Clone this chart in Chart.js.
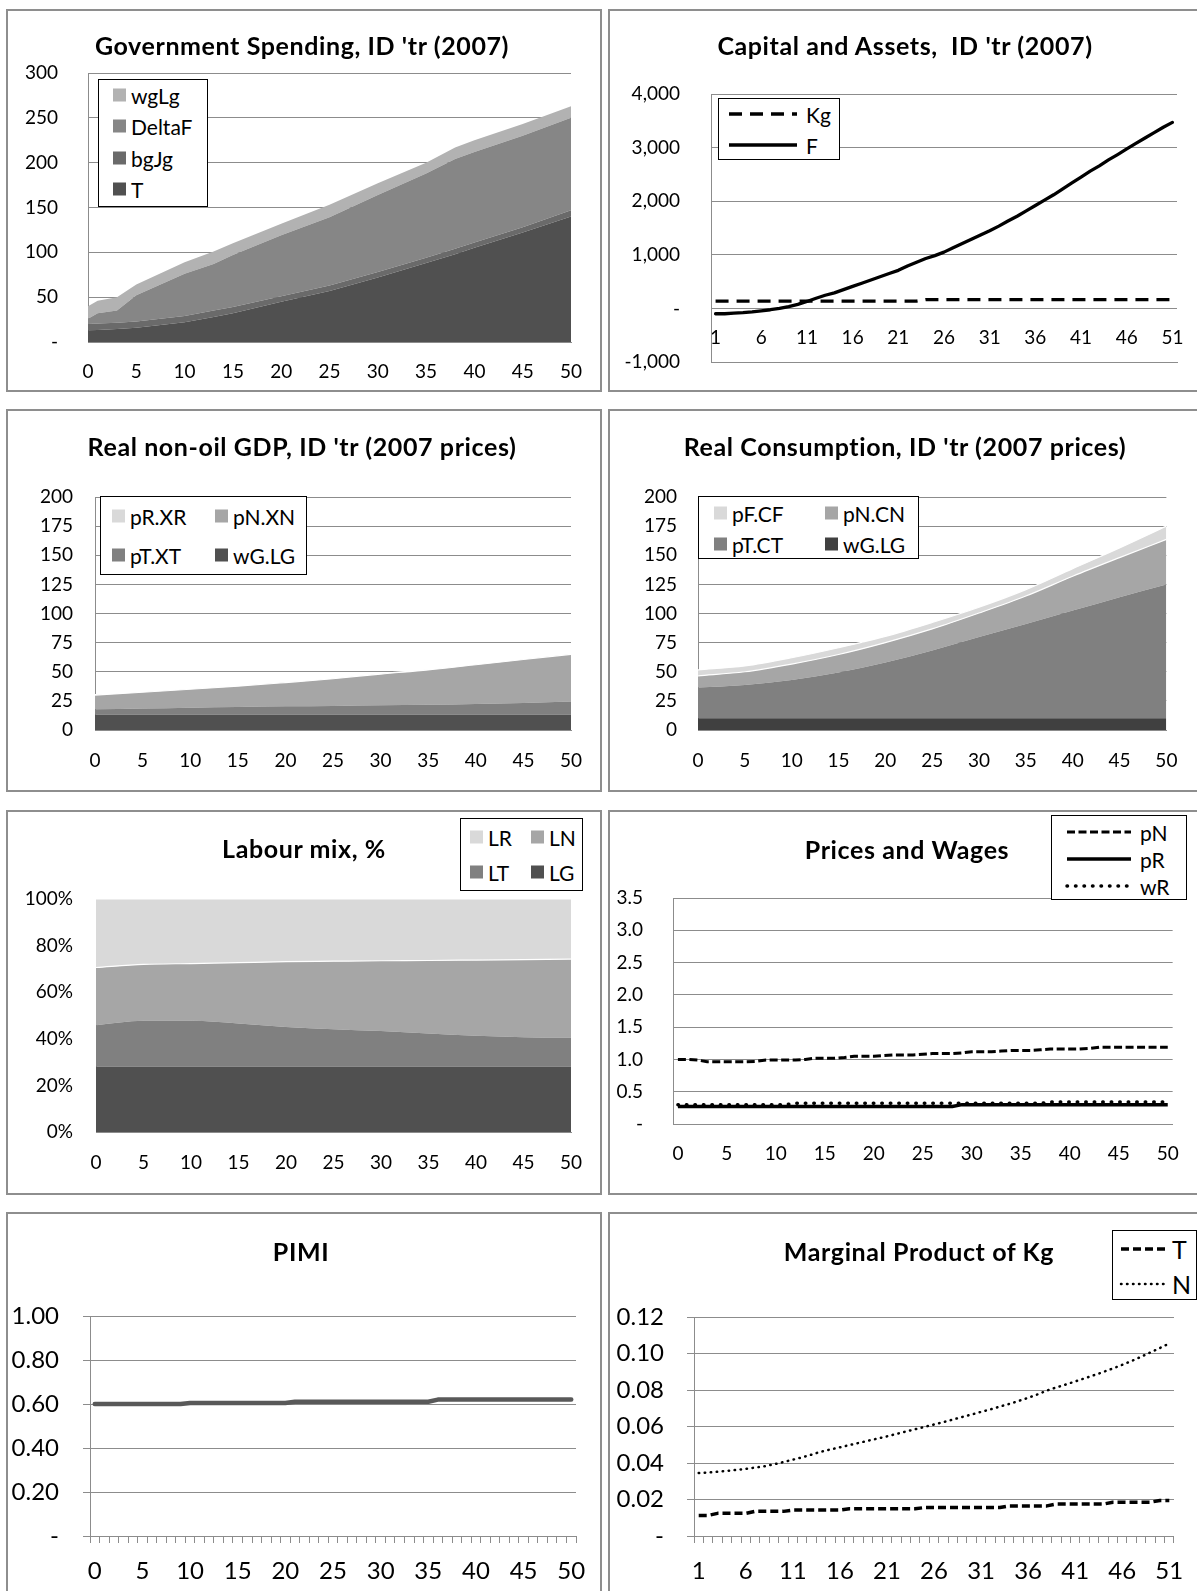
<!DOCTYPE html>
<html><head><meta charset="utf-8">
<script src="https://cdn.jsdelivr.net/npm/chart.js@4.4.1/dist/chart.umd.min.js"></script>
<style>
html,body{margin:0;padding:0;background:#fff;}
body{position:relative;width:1197px;height:1591px;overflow:hidden;font-family:'Lato',sans-serif;color:#000;}
.panel{position:absolute;border:2px solid #8e8e8e;box-sizing:border-box;}
canvas{position:absolute;}
.ttl{position:absolute;font-weight:700;font-size:25px;letter-spacing:0.6px;white-space:pre;transform:translate(-50%,-50%);line-height:1;}
.lg{position:absolute;border:1.5px solid #000;box-sizing:border-box;background:#fff;}
.lt{position:absolute;font-size:21px;line-height:1;white-space:nowrap;transform:translateY(-50%);}
.sw{position:absolute;width:13px;height:13px;transform:translateY(-50%);}
svg{position:absolute;overflow:visible;}
</style></head><body>
<script>
// ---------------- DATA ----------------
// Panel 1: Government Spending (stacked area)
const govYears  = [0,1,3,5,10,13,15,20,25,30,35,38,40,45,50];
const govT      = [13,13.5,14.5,16,22,28,32,45,57,72,88,98,105,122,140];
const govBgJg   = [7,7,7,7,7,7,7,6,6,6,6,6,6,6,7];
const govDeltaF = [6,11.5,13.5,29,47,52,58,68,76,86,94,100,101,102,103];
const govWgLg   = [14,14,15,12,13,14,13,13,14,13,12,13,13,13,13];
const govNames  = ['T','bgJg','DeltaF','wgLg'];

// Panel 2: Capital and Assets (lines), categories 1..51
const capPeriods = [1,2,3,4,5,6,7,8,9,10,11,12,13,14,15,16,17,18,19,20,21,22,23,24,25,26,27,28,29,30,31,32,33,34,35,36,37,38,39,40,41,42,43,44,45,46,47,48,49,50,51];
const capKg = [135,135,135,135,135,135,135,135,135,135,
               135,135,135,135,135,135,135,135,135,135,
               135,135,135,165,165,165,165,165,165,165,
               165,165,165,165,165,165,165,165,165,165,
               165,165,165,165,165,165,165,165,165,165,165];
const capF  = [-100,-100,-90,-80,-65,-45,-25,0,35,75,
               130,190,245,290,350,410,470,530,590,650,
               710,790,860,930,985,1050,1130,1210,1290,1370,
               1450,1535,1630,1720,1820,1920,2020,2120,2230,2340,
               2450,2560,2660,2770,2870,2975,3080,3180,3280,3380,3470];

// Panel 3: Real non-oil GDP (stacked area)
const gdpYears = [0,5,10,15,20,25,30,35,40,45,50];
const gdpWG = [13,13,13,13,13,13,13,13,13,13,13];
const gdpPT = [4.8,5.5,6.2,6.8,7.3,7.7,8.2,8.7,9.3,10.2,11.4];
const gdpPN = [12.2,13.9,15.8,17.8,20.4,23.3,26.8,29.9,33.7,37.3,40.6];
const gdpPR = [0.3,0.3,0.3,0.3,0.3,0.3,0.3,0.3,0.3,0.3,0.3];

// Panel 4: Real Consumption (stacked area)
const conYears = [0,5,10,15,20,25,30,35,40,45,50];
const conWG = [10,10,10,10,10,10,10,10,10,10,10];
const conPT = [26.4,28.7,33,39.4,48,58.3,69.8,81,92.5,104,115];
const conPN = [10.1,11.3,13.6,15.4,17.0,18.5,20.6,24.0,29.5,34.0,38.6];
const conPF = [5.1,5.0,5.4,5.8,5.3,5.5,5.0,5.5,6.5,8.3,11.4];

// Panel 5: Labour mix (100% stacked area, shares in %)
const labYears = [0,5,10,15,20,25,30,35,40,45,50];
const labLG = [28,28,28,28,28,28,28,28,28,28,28];
const labLT = [17.8,19.7,19.7,18.6,17.1,16.1,15.3,14.3,13.3,12.7,12.4];
const labLN = [24.8,24.2,24.6,26.1,28.0,29.2,30.2,31.3,32.5,33.3,33.8];
const labLR = [29.4,28.1,27.7,27.3,26.9,26.7,26.5,26.4,26.2,26.0,25.8];

// Panel 6: Prices and Wages, categories 0..50
const prPeriods = [0,1,2,3,4,5,6,7,8,9,10,11,12,13,14,15,16,17,18,19,20,21,22,23,24,25,26,27,28,29,30,31,32,33,34,35,36,37,38,39,40,41,42,43,44,45,46,47,48,49,50];
const prN = [1.00,1.00,0.99,0.965,0.965,0.965,0.965,0.965,0.97,0.99,
             0.99,0.99,0.99,1.00,1.02,1.02,1.02,1.03,1.05,1.05,
             1.05,1.06,1.07,1.07,1.07,1.08,1.09,1.09,1.09,1.10,
             1.12,1.12,1.12,1.13,1.14,1.14,1.14,1.15,1.16,1.16,
             1.16,1.16,1.17,1.19,1.19,1.19,1.19,1.19,1.19,1.19,1.19];
const prR = [0.27,0.27,0.27,0.27,0.27,0.27,0.27,0.27,0.27,0.27,
             0.27,0.27,0.27,0.27,0.27,0.27,0.27,0.27,0.27,0.27,
             0.27,0.27,0.27,0.27,0.27,0.27,0.27,0.27,0.27,0.30,
             0.30,0.30,0.30,0.30,0.30,0.30,0.30,0.30,0.30,0.30,
             0.30,0.30,0.30,0.30,0.30,0.30,0.30,0.30,0.30,0.30,0.30];
const prW = [0.30,0.30,0.30,0.30,0.30,0.30,0.30,0.30,0.30,0.30,
             0.30,0.30,0.32,0.32,0.32,0.32,0.32,0.32,0.32,0.32,
             0.32,0.32,0.32,0.32,0.32,0.32,0.32,0.32,0.32,0.32,
             0.32,0.32,0.32,0.32,0.32,0.32,0.32,0.32,0.34,0.34,
             0.34,0.34,0.34,0.34,0.34,0.34,0.34,0.34,0.34,0.34,0.34];

// Panel 7: PIMI, categories 0..50
const pimiPeriods = prPeriods;
const pimi = [0.60,0.60,0.60,0.60,0.60,0.60,0.60,0.60,0.60,0.60,
              0.605,0.605,0.605,0.605,0.605,0.605,0.605,0.605,0.605,0.605,
              0.605,0.61,0.61,0.61,0.61,0.61,0.61,0.61,0.61,0.61,
              0.61,0.61,0.61,0.61,0.61,0.61,0.62,0.62,0.62,0.62,
              0.62,0.62,0.62,0.62,0.62,0.62,0.62,0.62,0.62,0.62,0.62];

// Panel 8: Marginal Product of Kg, categories 1..51
const mpPeriods = capPeriods;
const mpT = [0.0113,0.0113,0.0124,0.0124,0.0124,0.0124,0.0135,0.0135,0.0135,0.0135,
             0.0142,0.0142,0.0142,0.0142,0.0142,0.0142,0.0149,0.0149,0.0149,0.0149,
             0.0149,0.0149,0.0149,0.0149,0.0156,0.0156,0.0156,0.0156,0.0156,0.0156,
             0.0156,0.0156,0.0156,0.0165,0.0165,0.0165,0.0165,0.0165,0.0175,0.0175,
             0.0175,0.0175,0.0175,0.0175,0.0185,0.0185,0.0185,0.0185,0.0185,0.0195,0.0195];
const mpN = [0.0345,0.0348,0.0352,0.0357,0.0362,0.0368,0.0375,0.0382,0.0393,0.0405,
             0.0418,0.0431,0.0446,0.0462,0.0474,0.0486,0.0498,0.0510,0.0522,0.0534,
             0.0546,0.0559,0.0572,0.0585,0.0598,0.0611,0.0624,0.0638,0.0652,0.0666,
             0.0680,0.0694,0.0709,0.0724,0.0740,0.0757,0.0776,0.0797,0.0814,0.0830,
             0.0847,0.0864,0.0881,0.0899,0.0918,0.0938,0.0959,0.0982,0.1006,0.1030,0.1055];

// ---------------- HELPERS ----------------
const GRID = '#8c8c8c';
const FONT = 'Lato';
const TS = 19;   // tick font size, upper rows
const TSB = 24;  // tick font size, bottom row
function addDiv(cls, css, text) {
  const d = document.createElement('div'); d.className = cls;
  for (const k in css) d.style[k] = (typeof css[k] === 'number') ? css[k] + 'px' : css[k];
  if (text !== undefined) d.textContent = text;
  document.body.appendChild(d); return d;
}
function panelBox(x,y,w,h){ addDiv('panel',{left:x,top:y,width:w,height:h}); }
function title(text,cx,cy){ addDiv('ttl',{left:cx,top:cy},text); }
function legendFrame(x1,y1,x2,y2){ addDiv('lg',{left:x1,top:y1,width:x2-x1,height:y2-y1}); }
function swatchItem(color,sx,tx,y,text,fs){ addDiv('sw',{left:sx,top:y,background:color}); const t=addDiv('lt',{left:tx,top:y},text); if(fs) t.style.fontSize=fs+'px'; }
function lineItem(x1,x2,y,width,dash,cap,tx,text,fs){
  const NS='http://www.w3.org/2000/svg';
  const svg=document.createElementNS(NS,'svg');
  svg.setAttribute('width',x2-x1+10); svg.setAttribute('height',10);
  svg.style.left=(x1-5)+'px'; svg.style.top=(y-5)+'px';
  const ln=document.createElementNS(NS,'line');
  ln.setAttribute('x1',5); ln.setAttribute('y1',5); ln.setAttribute('x2',x2-x1+5); ln.setAttribute('y2',5);
  ln.setAttribute('stroke','#000'); ln.setAttribute('stroke-width',width);
  if (dash) ln.setAttribute('stroke-dasharray',dash.join(' '));
  ln.setAttribute('stroke-linecap',cap||'butt');
  svg.appendChild(ln); document.body.appendChild(svg);
  const t=addDiv('lt',{left:tx,top:y},text); if(fs) t.style.fontSize=fs+'px';
}
function build(box, plot, cfg, noClipX) {
  const [x,y,w,h] = box, [l,t,r,b] = plot;
  const c = document.createElement('canvas');
  c.width=w; c.height=h; c.style.left=x+'px'; c.style.top=y+'px'; c.style.width=w+'px'; c.style.height=h+'px';
  document.body.appendChild(c);
  const o = cfg.options;
  o.responsive=false; o.maintainAspectRatio=false; o.animation=false; o.devicePixelRatio=1; o.events=[];
  o.layout={padding:{left:0,top:t-y,right:x+w-r,bottom:0}};
  o.scales.y.afterFit = s => { s.width = l - x; };
  o.scales.x.afterFit = s => { s.height = y + h - b; if (noClipX) s._computeLabelArea = () => undefined; };
  o.plugins={legend:{display:false},title:{display:false},tooltip:{enabled:false}};
  return new Chart(c, cfg);
}
function yScale(min,max,step,fmt,size,pad,tick,stacked){
  return {type:'linear',min,max,stacked:!!stacked,
    ticks:{stepSize:step,callback:v=>fmt(v),font:{family:FONT,size},color:'#000',padding:pad,autoSkip:false},
    grid:{color:GRID,lineWidth:1,drawTicks:!!tick,tickLength:tick||0},
    border:{display:true,color:GRID,width:1}};
}
function xLinear(size,pad){
  return {type:'linear',min:0,max:50,
    ticks:{stepSize:5,font:{family:FONT,size},color:'#000',padding:pad,maxRotation:0,autoSkip:false},
    grid:{display:false,drawTicks:false},border:{display:true,color:GRID,width:1}};
}
function xCat(labels,size,pad,tick){
  return {type:'category',offset:true,
    ticks:{autoSkip:false,maxRotation:0,minRotation:0,callback:(v,i)=> i%5===0 ? String(labels[i]) : '',font:{family:FONT,size},color:'#000',padding:pad},
    grid:{display:!!tick,drawOnChartArea:false,drawTicks:!!tick,tickLength:tick||0,offset:true,color:GRID},
    border:{display:true,color:GRID,width:1}};
}
function area(xs,vals,color,fill,border,smooth){
  return {data:xs.map((x,i)=>({x,y:vals[i]})),backgroundColor:color,
    borderColor:border||'rgba(0,0,0,0)',borderWidth:border?1.2:1,fill,pointRadius:0,
    tension:0,cubicInterpolationMode:smooth?'monotone':'default'};
}
function line(vals,width,dash,cap,order,color){
  return {data:vals,borderColor:color||'#000',borderWidth:width,borderDash:dash||[],borderCapStyle:cap||'butt',
    borderJoinStyle:'round',pointRadius:0,fill:false,tension:0,order};
}
const dash0 = v => v===0 ? '-' : v;
const lh = s => 0.6*s; // half line height of tick labels

function drawAll(){
  // ---- Panel 1 ----
  panelBox(6,9,596,383);
  build([6,9,596,382],[88,73,571,342],{type:'line',
    data:{datasets:[
      area(govYears,govT,'#505050','origin'),
      area(govYears,govBgJg,'#6a6a6a','-1'),
      area(govYears,govDeltaF,'#868686','-1'),
      area(govYears,govWgLg,'#b2b2b2','-1')]},
    options:{scales:{x:xLinear(TS,30-lh(TS)),y:yScale(0,300,50,dash0,TS,30,0,true)}}});
  title('Government Spending, ID \'tr (2007)',302,45);
  legendFrame(98,79,208,207);
  swatchItem('#b2b2b2',113,131,95,govNames[3]);
  swatchItem('#868686',113,131,126,govNames[2]);
  swatchItem('#6a6a6a',113,131,158,govNames[1]);
  swatchItem('#505050',113,131,189,govNames[0]);

  // ---- Panel 2 ----  (canvas taller than panel so the x scale box can hold the y-label overflow)
  panelBox(608,9,592,383);
  build([608,9,589,398],[711,94,1177,362],{type:'line',
    data:{labels:capPeriods,datasets:[line(capKg,3.3,[13,8],'butt',1),line(capF,3.3,[],'round',2)]},
    options:{scales:{x:xCat(capPeriods,TS,(338-362)-lh(TS),0),
      y:yScale(-1000,4000,1000,v=> v===0?'-':v.toLocaleString('en-US'),TS,31,0)}}}, true);
  title('Capital and Assets,  ID \'tr (2007)',905,45);
  legendFrame(718,98,840,160);
  lineItem(729,797,114,3.3,[13,8],'butt',806,'Kg');
  lineItem(729,797,145,3.3,null,'butt',806,'F');

  // ---- Panel 3 ----
  panelBox(6,409,596,383);
  build([6,409,596,382],[95,497,571,730],{type:'line',
    data:{datasets:[
      area(gdpYears,gdpWG,'#505050','origin'),
      area(gdpYears,gdpPT,'#808080','-1',null,true),
      area(gdpYears,gdpPN,'#a6a6a6','-1','#ffffff',true),
      area(gdpYears,gdpPR,'#d9d9d9','-1','#ffffff',true)]},
    options:{scales:{x:xLinear(TS,31-lh(TS)),y:yScale(0,200,25,v=>v,TS,22,0,true)}}});
  title('Real non-oil GDP, ID \'tr (2007 prices)',302,446);
  legendFrame(100,496,307,575);
  swatchItem('#d9d9d9',112,130,516,'pR.XR');
  swatchItem('#a6a6a6',215,233,516,'pN.XN');
  swatchItem('#808080',112,130,555,'pT.XT');
  swatchItem('#505050',215,233,555,'wG.LG');

  // ---- Panel 4 ----
  panelBox(608,409,592,383);
  build([608,409,589,382],[698,497,1175,730],{type:'line',
    data:{datasets:[
      area(conYears,conWG,'#404040','origin'),
      area(conYears,conPT,'#808080','-1',null,true),
      area(conYears,conPN,'#a6a6a6','-1','#ffffff',true),
      area(conYears,conPF,'#d9d9d9','-1','#ffffff',true)]},
    options:{scales:{x:xLinear(TS,31-lh(TS)),y:yScale(0,200,25,v=>v,TS,21,0,true)}}});
  title('Real Consumption, ID \'tr (2007 prices)',905,446);
  legendFrame(698,496,919,559);
  swatchItem('#d9d9d9',714,732,513,'pF.CF');
  swatchItem('#a6a6a6',825,843,513,'pN.CN');
  swatchItem('#808080',714,732,544,'pT.CT');
  swatchItem('#404040',825,843,544,'wG.LG');

  // ---- Panel 5 ----
  panelBox(6,810,596,385);
  build([6,810,596,384],[96,899,571,1132],{type:'line',
    data:{datasets:[
      area(labYears,labLG,'#505050','origin'),
      area(labYears,labLT,'#808080','-1',null,true),
      area(labYears,labLN,'#a6a6a6','-1','#ffffff',true),
      area(labYears,labLR,'#d9d9d9','-1','#ffffff',true)]},
    options:{scales:{x:xLinear(TS,31-lh(TS)),y:yScale(0,100,20,v=>v+'%',TS,23,0,true)}}});
  title('Labour mix, %',304,848);
  legendFrame(460,818,583,891);
  swatchItem('#d9d9d9',470,488,837,'LR');
  swatchItem('#a6a6a6',531,549,837,'LN');
  swatchItem('#808080',470,488,872,'LT');
  swatchItem('#505050',531,549,872,'LG');

  // ---- Panel 6 ----
  panelBox(608,810,592,385);
  build([608,810,589,384],[673,898,1184,1124],{type:'line',
    data:{labels:prPeriods,datasets:[
      line(prN,3,[8,3.5],'butt',3),
      line(prR,3.5,[],'butt',2),
      line(prW,3.5,[0.5,8],'round',1)]},
    options:{scales:{x:xCat(prPeriods,TS,29.5-lh(TS),0),
      y:yScale(0,3.5,0.5,v=> v===0?'-':v.toFixed(1),TS,30,0)}}});
  title('Prices and Wages',907,849);
  legendFrame(1051,815,1187,900);
  lineItem(1067,1131,832,3,[8,3.5],'butt',1140,'pN');
  lineItem(1067,1131,859,3.5,null,'butt',1140,'pR');
  lineItem(1067,1131,886,3.5,[0.5,8],'round',1140,'wR');

  // ---- Panel 7 ----
  panelBox(6,1212,596,400);
  build([6,1212,596,379],[90,1316,576,1536],{type:'line',
    data:{labels:pimiPeriods,datasets:[line(pimi,4.5,[],'round',1,'#595959')]},
    options:{scales:{x:xCat(pimiPeriods,TSB,35-7-lh(TSB),7),
      y:yScale(0,1,0.2,v=> v===0?'-':v.toFixed(2),TSB,24,7)}}});
  title('PIMI',301,1251);

  // ---- Panel 8 ----
  panelBox(608,1212,592,400);
  build([608,1212,589,379],[694,1317,1178,1536],{type:'line',
    data:{labels:mpPeriods,datasets:[line(mpT,3.5,[8,4],'butt',2),line(mpN,2.5,[0.5,5.5],'round',1)]},
    options:{scales:{x:xCat(mpPeriods,TSB,35-7-lh(TSB),7),
      y:yScale(0,0.12,0.02,v=> v===0?'-':v.toFixed(2),TSB,23,7)}}});
  title('Marginal Product of Kg',919,1251);
  legendFrame(1112,1230,1197,1300);
  lineItem(1121,1166,1249,3.5,[8,4],'butt',1172,'T',25);
  lineItem(1121,1166,1284,2.5,[0.5,5.5],'round',1172,'N',25);
}

const ready = (document.fonts && document.fonts.load)
  ? Promise.all([document.fonts.load('19px Lato'),document.fonts.load('bold 25px Lato')]).catch(()=>{})
  : Promise.resolve();
ready.then(drawAll, drawAll);
</script>
</body></html>
